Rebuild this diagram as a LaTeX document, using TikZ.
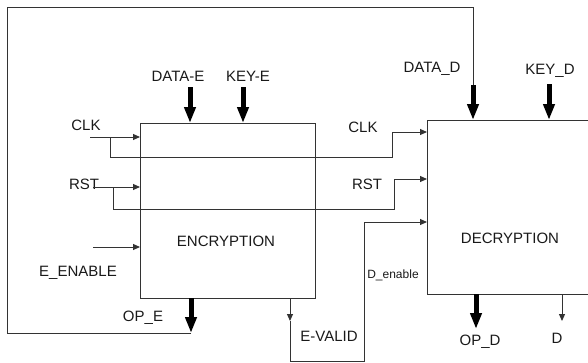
\documentclass[tikz,border=0pt]{standalone}
\usepackage{fontspec}
\setmainfont{Liberation Sans}
\usetikzlibrary{arrows.meta,positioning,calc}

\begin{document}
\begin{tikzpicture}[
    x=1pt, y=-1pt,
    every node/.style={font=\fontsize{15}{18}\selectfont, text=black!90},
    block/.style={rectangle, draw=black!80, line width=1pt, inner sep=0pt,
                  outer sep=0pt},
    small/.style={font=\fontsize{12}{14}\selectfont},
    wire/.style={draw=black!80, line width=1pt},
    sig/.style={wire, -{Triangle[length=7pt,width=6pt]}},
    bus/.style={draw=black, line width=5pt, -{Triangle[length=16pt,width=11pt]}},
]
\useasboundingbox (0,0) rectangle (588,362);
\clip (0,0) rectangle (588,362);

% Blocks
\node[block, minimum width=175pt, minimum height=175pt] (enc) at (227.5,210.5) {};
\node[block, minimum width=170pt, minimum height=174pt] (dec) at (512,207) {};
\node (enclabel) at (226,241) {ENCRYPTION};
\node (declabel) at (510,238) {DECRYPTION};

% Ports
\coordinate (clk_e)  at (90,137);
\coordinate (clk_j)  at (110,137);
\coordinate (clk_b)  at (392,157);
\coordinate (clk_d)  at (392,132);
\coordinate (rst_e)  at (93,187);
\coordinate (rst_j)  at (113,187);
\coordinate (rst_b)  at (394,209);
\coordinate (rst_d)  at (394,179);
\coordinate (en_e)   at (93,247);
\coordinate (ev)     at (290,321);
\coordinate (ev_b)   at (364,361);
\coordinate (den)    at (364,222);
\coordinate (ope)    at (191,333);
\coordinate (loop)   at (7,7);
\coordinate (data_e) at (190,87);
\coordinate (key_e)  at (243,87);
\coordinate (data_d) at (473,85);
\coordinate (key_d)  at (549,84);
\coordinate (opd)    at (476,329);
\coordinate (dout)   at (562,321);

% Labels
\node (l_data_e) at (178,76)  {DATA-E};
\node (l_key_e)  at (248,76)  {KEY-E};
\node (l_data_d) at (432,69)  {DATA\_D};
\node (l_key_d)  at (550,71)  {KEY\_D};
\node (l_clk_e)  at (86,125)  {CLK};
\node (l_rst_e)  at (84,184)  {RST};
\node (l_clk_d)  at (363,127) {CLK};
\node (l_rst_d)  at (367,184) {RST};
\node (l_en)     at (78,273)  {E\_ENABLE};
\node (l_ope)    at (143,318) {OP\_E};
\node (l_ev)     at (329,336) {E-VALID};
\node[small] (l_den) at (393,275) {D\_enable};
\node (l_opd)    at (480,342) {OP\_D};
\node (l_d)      at (557,338) {D};

% Inputs of the encryption block
\draw[bus] (data_e) -- (data_e |- enc.north);
\draw[bus] (key_e) -- (key_e |- enc.north);
\draw[sig] (clk_e) -- (clk_e -| enc.west);
\draw[sig] (rst_e) -- (rst_e -| enc.west);
\draw[sig] (en_e) -- (en_e -| enc.west);

% Encryption to decryption
\draw[sig] (clk_j) |- (clk_b) |- (clk_d -| dec.west);
\draw[sig] (rst_j) |- (rst_b) |- (rst_d -| dec.west);
\draw[sig] (ev |- enc.south) -- (ev);
\draw[sig] (ev) |- (ev_b) |- (den -| dec.west);
\draw[bus] (ope |- enc.south) -- (ope);
\draw[wire] (ope) -| (loop) -| (data_d);
\draw[bus] (data_d) -- (data_d |- dec.north);
\draw[bus] (key_d) -- (key_d |- dec.north);

% Outputs of the decryption block
\draw[bus] (opd |- dec.south) -- (opd);
\draw[sig] (dout |- dec.south) -- (dout);

\end{tikzpicture}
\end{document}
